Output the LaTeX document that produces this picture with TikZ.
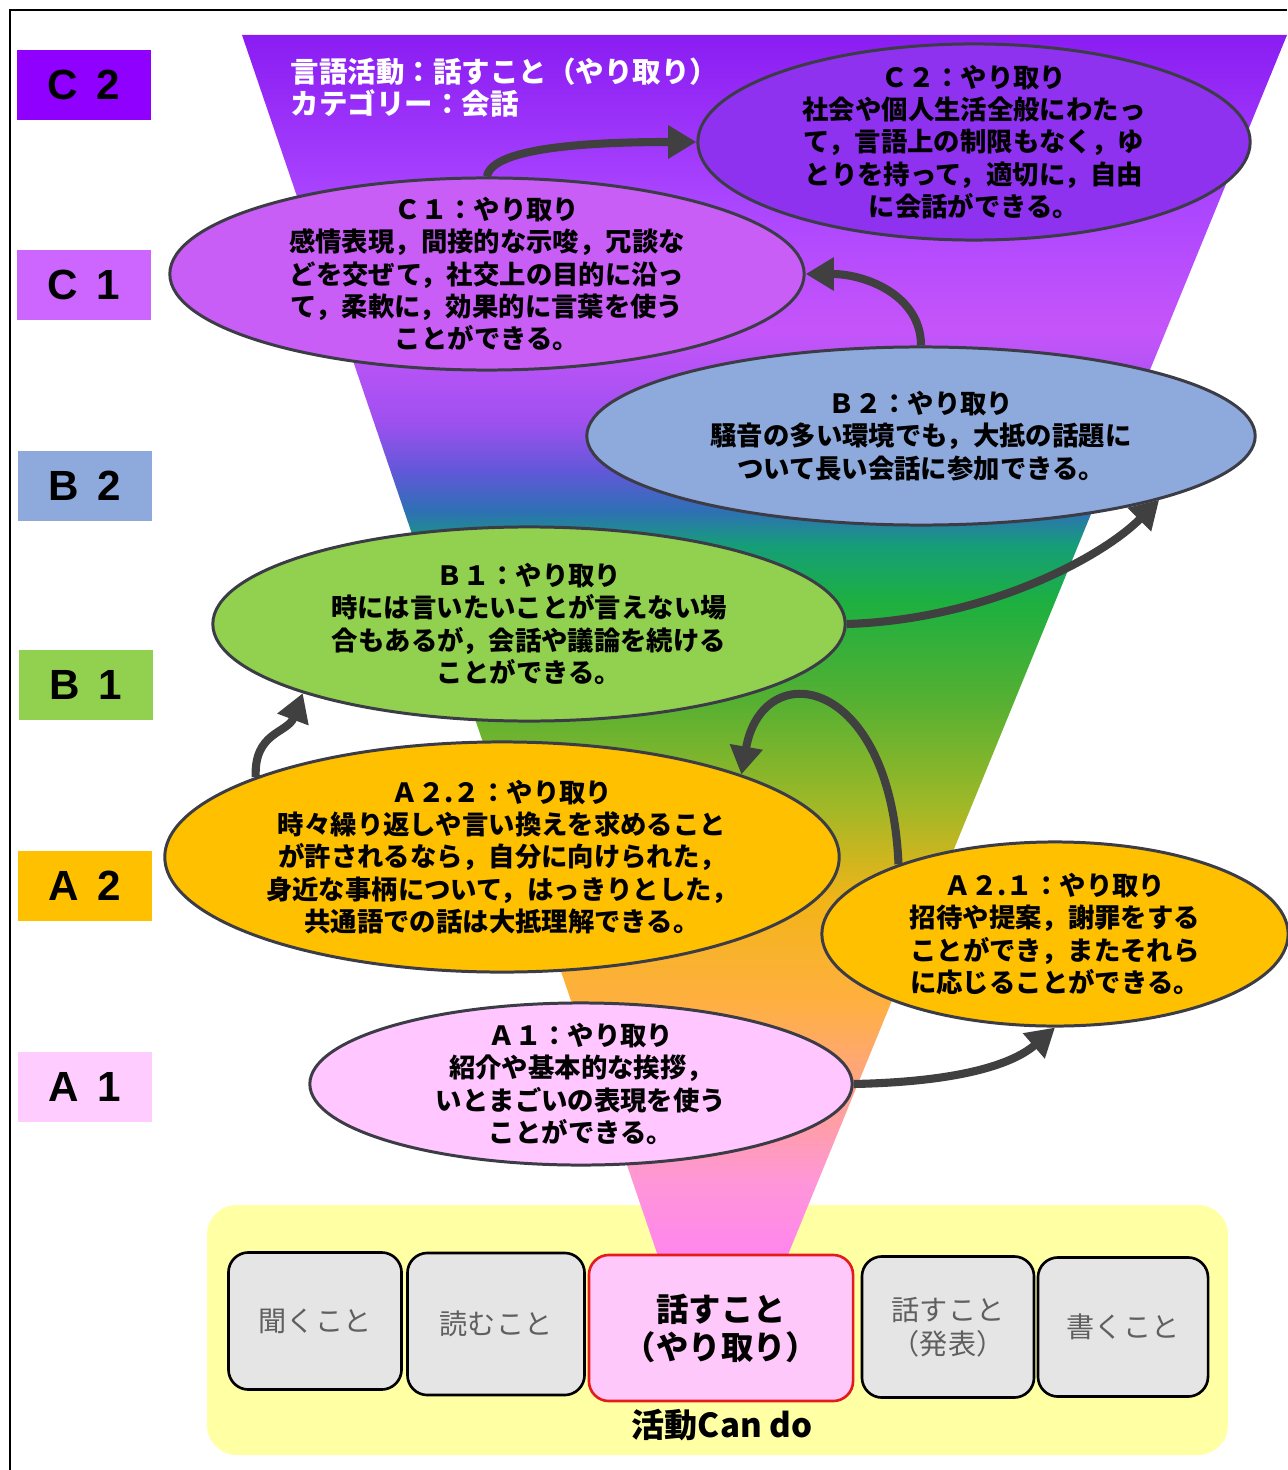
\documentclass[tikz,border=0pt]{standalone}
\usepackage{fontspec}
\setmainfont{Noto Sans CJK JP}
\setsansfont{Liberation Sans}
\usetikzlibrary{arrows.meta, shapes.geometric}

\definecolor{ctwo}{HTML}{8F00FF}
\definecolor{cone}{HTML}{CC66FF}
\definecolor{btwo}{HTML}{8EA9DB}
\definecolor{bone}{HTML}{92D050}
\definecolor{atwo}{HTML}{FFC000}
\definecolor{aone}{HTML}{FFCCFF}
\definecolor{ctwofill}{HTML}{8E32F0}
\definecolor{conefill}{HTML}{C95EF6}
\definecolor{aonefill}{HTML}{FFC6FF}
\definecolor{rim}{HTML}{3C3C46}
\definecolor{arrowgrey}{HTML}{404040}
\definecolor{padyellow}{HTML}{FFFFA3}
\definecolor{keygrey}{HTML}{E5E5E5}
\definecolor{keytext}{HTML}{5F5F5F}
\definecolor{keyred}{HTML}{E31B1B}
\definecolor{keypink}{HTML}{FFC8FA}

\definecolor{fa}{HTML}{FF84F0}
\definecolor{fb}{HTML}{FF96D8}
\definecolor{fc}{HTML}{FFB040}
\definecolor{fd}{HTML}{F2B418}
\definecolor{fe}{HTML}{9CB828}
\definecolor{ff}{HTML}{55B032}
\definecolor{fg}{HTML}{1DB040}
\definecolor{fh}{HTML}{159E78}
\definecolor{fi}{HTML}{2E70B4}
\definecolor{fj}{HTML}{6058D8}
\definecolor{fk}{HTML}{A050F0}
\definecolor{fl}{HTML}{C555FA}
\definecolor{fm}{HTML}{AA45FF}
\definecolor{fn}{HTML}{8A1CF2}

\pgfdeclareverticalshading{funnelshade}{100bp}{color(0bp)=(fa); color(25bp)=(fa);
  color(28.3bp)=(fb); color(35.6bp)=(fc); color(39.7bp)=(fd); color(43.8bp)=(fe);
  color(47.9bp)=(ff); color(51.9bp)=(fg); color(54.2bp)=(fh); color(55.6bp)=(fi);
  color(57.2bp)=(fj); color(59.3bp)=(fk); color(63bp)=(fl); color(68.3bp)=(fm);
  color(75bp)=(fn); color(100bp)=(fn)}

\begin{document}
\begin{tikzpicture}[x=0.01cm, y=-0.01cm,
    lvbox/.style={minimum width=1.33cm, minimum height=0.70cm, inner sep=0pt,
        font=\sffamily\bfseries\fontsize{12}{12}\selectfont},
    lvl/.style={ellipse, draw=rim, line width=0.85pt, inner sep=0pt},
    say/.style={align=center, font=\fontsize{7.5}{9.2}\selectfont\bfseries},
    key/.style={rectangle, rounded corners=0.2cm, draw=black, line width=0.75pt,
        fill=keygrey, text=keytext, inner sep=0pt, align=center,
        font=\fontsize{8}{9.7}\selectfont},
    prog/.style={draw=arrowgrey, line width=2.3pt, -{Triangle[length=8pt,width=9pt]}}]
    \useasboundingbox (0,0) rectangle (1287,1470);
    \draw[line width=0.6pt] (10,1470) -- (10,10) -- (1287,10);

    % background pad and funnel
    \fill[padyellow, rounded corners=0.3cm] (207,1205) rectangle (1228,1455);
    \shade[shading=funnelshade] (242,35) -- (1287,35) -- (785,1262) -- (660,1262) -- cycle;

    % level labels
    \node[lvbox, fill=ctwo] (lc2) at (84,85) {C~\,2};
    \node[lvbox, fill=cone] (lc1) at (84,285) {C~\,1};
    \node[lvbox, fill=btwo] (lb2) at (85,486) {B~\,2};
    \node[lvbox, fill=bone] (lb1) at (86,685) {B~\,1};
    \node[lvbox, fill=atwo] (la2) at (85,886) {A~\,2};
    \node[lvbox, fill=aone] (la1) at (85,1087) {A~\,1};

    \node[anchor=west, align=left, inner sep=0pt, text=white, font=\fontsize{8.1}{9.1}\selectfont\bfseries]
        (head) at (290,88) {言語活動：話すこと（やり取り）\\カテゴリー：会話};

    % can-do ellipses
    \node[lvl, fill=ctwofill, minimum width=5.52cm, minimum height=1.96cm] (c2) at (974,142) {};
    \node[say] at (c2) {Ｃ２：やり取り\\社会や個人生活全般にわたっ\\て，言語上の制限もなく，ゆ\\とりを持って，適切に，自由\\に会話ができる。};
    \node[lvl, fill=conefill, minimum width=6.34cm, minimum height=1.92cm] (c1) at (487,274) {};
    \node[say] at (c1) {Ｃ１：やり取り\\感情表現，間接的な示唆，冗談な\\どを交ぜて，社交上の目的に沿っ\\て，柔軟に，効果的に言葉を使う\\ことができる。};
    \node[lvl, fill=btwo, minimum width=6.68cm, minimum height=1.78cm] (b2) at (921,436) {};
    \node[say] at (b2) {Ｂ２：やり取り\\騒音の多い環境でも，大抵の話題に\\ついて長い会話に参加できる。};
    \node[lvl, fill=bone, minimum width=6.32cm, minimum height=1.94cm] (b1) at (529,624) {};
    \node[say] at (b1) {Ｂ１：やり取り\\時には言いたいことが言えない場\\合もあるが，会話や議論を続ける\\ことができる。};
    \node[lvl, fill=atwo, minimum width=6.74cm, minimum height=2.30cm] (a22) at (502,857) {};
    \node[say] at (a22) {Ａ２.２：やり取り\\時々繰り返しや言い換えを求めること\\が許されるなら，自分に向けられた，\\身近な事柄について，はっきりとした，\\共通語での話は大抵理解できる。};
    \node[lvl, fill=atwo, minimum width=4.66cm, minimum height=1.84cm] (a21) at (1055,934) {};
    \node[say] at (a21) {Ａ２.１：やり取り\\招待や提案，謝罪をする\\ことができ，またそれら\\に応じることができる。};
    \node[lvl, fill=aonefill, minimum width=5.42cm, minimum height=1.62cm] (a1) at (581,1084) {};
    \node[say] at (a1) {Ａ１：やり取り\\紹介や基本的な挨拶，\\いとまごいの表現を使う\\ことができる。};

    % progression
    \draw[prog] (a1.east) .. controls +(98,-2) and +(-45,39) .. (a21.south);
    \draw[prog] (a21.156) .. controls +(-8,-190) and +(21,-120) .. (a22.19);
    \draw[prog] (a22.162) .. controls +(-2,-45) and +(-15,40) .. (b1.197);
    \draw[prog] (b1.east) .. controls +(135,-4) and +(-60,60) .. (b2.-15);
    \draw[prog] (b2.north) .. controls +(0,-50) and +(60,0) .. (c1.east);
    \draw[prog] (c1.north) .. controls +(5,-30) and +(-100,0) .. (c2.west);

    % activities
    \node[key, minimum width=1.73cm, minimum height=1.37cm] (listen) at (315,1321) {聞くこと};
    \node[key, minimum width=1.77cm, minimum height=1.42cm] (read) at (496,1324) {読むこと};
    \node[key, fill=keypink, draw=keyred, text=black, minimum width=2.64cm, minimum height=1.46cm,
        font=\fontsize{9.2}{10.8}\selectfont\bfseries] (inter) at (721,1328) {話すこと\\（やり取り）};
    \node[key, minimum width=1.72cm, minimum height=1.41cm] (pres) at (948,1327) {話すこと\\（発表）};
    \node[key, minimum width=1.70cm, minimum height=1.39cm] (write) at (1123,1327) {書くこと};
    \node[font=\fontsize{9.4}{11}\selectfont\bfseries] (cando) at (722,1425) {活動Can do};
\end{tikzpicture}
\end{document}
